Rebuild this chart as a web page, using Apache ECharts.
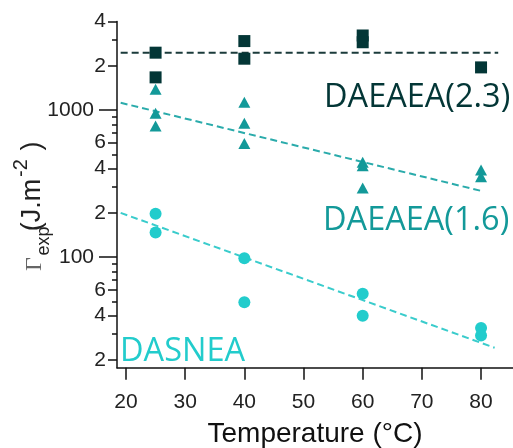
<!DOCTYPE html>
<html><head><meta charset="utf-8">
<script src="https://cdn.jsdelivr.net/npm/echarts@6/dist/echarts.min.js"></script>
<style>html,body{margin:0;padding:0;background:#fff}#c{width:513px;height:448px}</style>
</head><body><div id="c"></div>
<script>
// ---- data ----
const sqX = [25, 25, 40, 40, 60, 60, 80];
const sqY = [2455, 1668, 2944, 2234, 3213, 2891, 1950];
const triX = [25, 25, 25, 40, 40, 40, 60, 60, 60, 80, 80];
const triY = [1383, 950, 778, 1128, 812, 593, 441, 418, 295, 391, 352];
const cirX = [25, 25, 40, 40, 60, 60, 80, 80];
const cirY = [197, 147, 98.4, 49.4, 56.3, 39.9, 33.0, 29.3];
const fit23X = [19.1, 82.9];
const fit23Y = [2455, 2455];
const fit16X = [19.1, 80];
const fit16Y = [1121, 282];
const fitSnX = [19.1, 82.3];
const fitSnY = [200, 24.2];
const xTicks = [20, 30, 40, 50, 60, 70, 80];
const yMajor = [100, 1000];
const yLabeled = [20, 40, 60, 200, 400, 600, 2000, 4000];
const yMinor = [30, 50, 70, 80, 90, 300, 500, 700, 800, 900, 3000];
const seriesNames = ['DAEAEA(2.3)', 'DAEAEA(1.6)', 'DASNEA'];
const xTitle = 'Temperature (°C)';

const X_MIN = 18.48, X_MAX = 85.4, Y_MIN = 17.7, Y_MAX = 4000;
const L = Math.log10;
const zip = (a, b) => a.map((v, i) => [v, b[i]]);

const cDark = '#033636', cTeal = '#139999', cCyan = '#22cccc';
const axisCol = '#111';

const chart = echarts.init(document.getElementById('c'), null, {renderer: 'canvas'});

function decoAxis(vals, tickLen, labels, margin, fmt, showLine) {
  return {
    type: 'value', position: 'left', min: L(Y_MIN), max: L(Y_MAX),
    axisLine: {show: showLine, lineStyle: {color: axisCol, width: 1.5}},
    axisTick: {show: true, customValues: vals.map(L), length: tickLen, lineStyle: {color: axisCol, width: 1.5}},
    axisLabel: labels ? {show: true, customValues: vals.map(L), margin: margin, fontSize: 21,
      fontFamily: 'Liberation Sans', color: '#222', formatter: fmt} : {show: false},
    splitLine: {show: false}
  };
}

const option = {
  animation: false,
  backgroundColor: '#fff',
  grid: {left: 117, right: 0, top: 21.5, bottom: 80.3, containLabel: false, outerBoundsMode: 'none'},
  xAxis: {
    type: 'value', min: X_MIN, max: X_MAX,
    axisLine: {lineStyle: {color: axisCol, width: 1.5}},
    axisTick: {customValues: xTicks, length: 12, lineStyle: {color: axisCol, width: 1.5}},
    axisLabel: {customValues: xTicks, fontSize: 21, fontFamily: 'Liberation Sans', color: '#222', margin: 24},
    splitLine: {show: false},
    name: xTitle, nameLocation: 'middle', nameGap: 53,
    nameTextStyle: {fontSize: 28, fontFamily: 'Liberation Sans', color: '#111'}
  },
  yAxis: [
    {type: 'log', logBase: 10, min: Y_MIN, max: Y_MAX, position: 'left', show: false},
    decoAxis(yMajor, 18, true, 23, v => String(Math.round(Math.pow(10, v))), true),
    decoAxis(yLabeled, 9, true, 11, v => String(Math.round(Math.pow(10, v) / Math.pow(10, Math.floor(v + 1e-9)))), false),
    decoAxis(yMinor, 5, false, 0, null, false)
  ],
  series: [
    {name: seriesNames[0] + ' fit', type: 'line', yAxisIndex: 0, data: zip(fit23X, fit23Y), symbol: 'none',
      lineStyle: {color: '#1b3b3b', width: 2, type: [7, 4]}, z: 2},
    {name: seriesNames[1] + ' fit', type: 'line', yAxisIndex: 0, data: zip(fit16X, fit16Y), symbol: 'none',
      lineStyle: {color: '#2aabab', width: 2, type: [7, 4]}, z: 2},
    {name: seriesNames[2] + ' fit', type: 'line', yAxisIndex: 0, data: zip(fitSnX, fitSnY), symbol: 'none',
      lineStyle: {color: '#3acccc', width: 2, type: [7, 4]}, z: 2},
    {name: seriesNames[0], type: 'scatter', yAxisIndex: 0, data: zip(sqX, sqY), symbol: 'rect', symbolSize: 12,
      itemStyle: {color: cDark, opacity: 1}, z: 5},
    {name: seriesNames[1], type: 'scatter', yAxisIndex: 0, data: zip(triX, triY), symbol: 'triangle', symbolSize: [12, 11],
      itemStyle: {color: cTeal, opacity: 1}, z: 5},
    {name: seriesNames[2], type: 'scatter', yAxisIndex: 0, data: zip(cirX, cirY), symbol: 'circle', symbolSize: 12,
      itemStyle: {color: cCyan, opacity: 1}, z: 5}
  ],
  graphic: [
    {type: 'text', left: 324, top: 81, z: 10,
      style: {text: seriesNames[0], fill: cDark, font: '32.5px "Open Sans"'}},
    {type: 'text', left: 323, top: 204, z: 10,
      style: {text: seriesNames[1], fill: cTeal, font: '32.5px "Open Sans"'}},
    {type: 'text', left: 120, top: 335, z: 10,
      style: {text: seriesNames[2], fill: cCyan, font: '32.5px "Open Sans"'}},
    {type: 'group', x: 42, y: 273, rotation: Math.PI / 2, z: 10,
      children: [
        {type: 'text', x: 9, y: -7, style: {text: 'Γ', fill: '#666', font: '24px "Liberation Serif"', align: 'center', verticalAlign: 'middle'}},
        {type: 'text', x: 32, y: 2, style: {text: 'exp', fill: '#222', font: '18px "Liberation Sans"', align: 'center', verticalAlign: 'middle'}},
        {type: 'text', x: 68, y: -9, style: {text: '(J.m', fill: '#222', font: '27px "Liberation Sans"', align: 'center', verticalAlign: 'middle'}},
        {type: 'text', x: 105, y: -21, style: {text: '-2', fill: '#222', font: '20px "Liberation Sans"', align: 'center', verticalAlign: 'middle'}},
        {type: 'text', x: 127, y: -9, style: {text: ')', fill: '#222', font: '27px "Liberation Sans"', align: 'center', verticalAlign: 'middle'}}
      ]}
  ]
};
chart.setOption(option);
</script>
</body></html>
